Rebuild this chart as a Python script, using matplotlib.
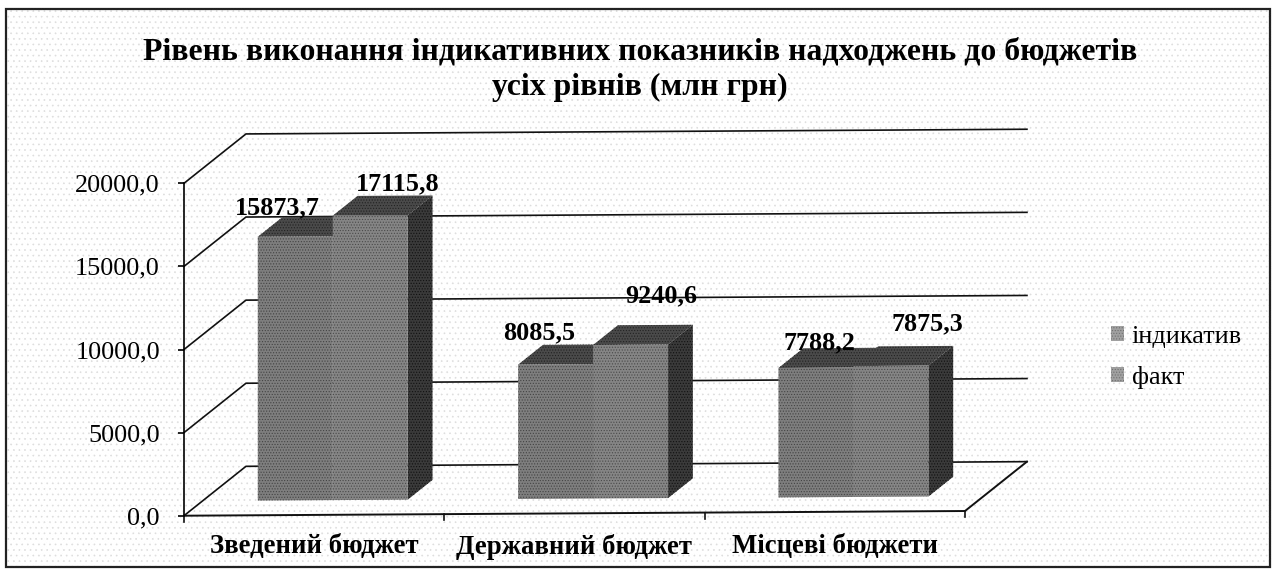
import numpy as np
import matplotlib
matplotlib.use('Agg')
import matplotlib.pyplot as plt
from matplotlib.patches import Polygon, Rectangle, Patch
from matplotlib.transforms import Affine2D

plt.rcParams['font.family'] = ['Liberation Serif', 'DejaVu Serif']
plt.rcParams['hatch.linewidth'] = 0.5

# Data
title = 'Рівень виконання індикативних показників надходжень до бюджетів\nусіх рівнів (млн грн)'
categories = ['Зведений бюджет', 'Державний бюджет', 'Місцеві бюджети']
series_names = ['індикатив', 'факт']
indicative = [15873.7, 8085.5, 7788.2]
actual = [17115.8, 9240.6, 7875.3]
y_ticks = [0, 5000, 10000, 15000, 20000]

# 3d look: the wall sits up and to the right of the front plane
depth_x = 0.238
depth_y = 2948
skew_y = 94  # the scan is slightly rotated
bar_w = 0.288
bar_d0 = 0.3
bar_d1 = 0.7

# hand placed labels of the original, in pixels from the bar's top front edge
label_dx = [[-18, 27], [-16, 31], [4, 36]]
label_dy = [[29, 32], [32, 49], [25, 42]]

W, H = 1274, 569
fig = plt.figure(figsize=(W / 100, H / 100), dpi=100, facecolor='white')
fig.add_artist(Rectangle((6 / W, 1 - 567 / H), 1264 / W, 558 / H, transform=fig.transFigure,
                         facecolor='white', edgecolor='#dedede', hatch='...', lw=0, zorder=-2))
fig.add_artist(Rectangle((6 / W, 1 - 567 / H), 1264 / W, 558 / H, transform=fig.transFigure,
                         facecolor='none', edgecolor='#222222', lw=1.6, zorder=-1))

ax = fig.add_axes([184 / W, 1 - 515.7 / H, 781 / W, 332.4 / H])
ax.patch.set_visible(False)
ax.set_xlim(0, 3)
ax.set_ylim(0, 20000)
tilt = Affine2D.from_values(1, skew_y, 0, 1, 0, 0) + ax.transData


def flat(xs, vs, ds):
    return np.column_stack([np.array(xs) + np.array(ds) * depth_x,
                            np.array(vs) + np.array(ds) * depth_y])


# walls and floor
for v in y_ticks:
    ax.plot(*flat([0, 0, 3], [v, v, v], [0, 1, 1]).T, color='#111111', lw=1.2, transform=tilt, clip_on=False)
ax.plot(*flat([0, 3, 3], [0, 0, 0], [0, 0, 1]).T, color='#111111', lw=1.4, transform=tilt, clip_on=False)
for x in range(4):
    ax.plot([x, x], [0, -360], color='#111111', lw=1.2, transform=tilt, clip_on=False)

# bars, left one first so that the right one covers its side
styles = [('#7e7e7e', '#444444'), ('#858585', '#4a4a4a')]
for s, values in enumerate([indicative, actual]):
    xs = np.arange(3) + 0.5 + (s - 1) * bar_w
    front_x = xs + bar_d0 * depth_x
    base = bar_d0 * depth_y
    ax.bar(front_x, values, width=bar_w, bottom=base, align='edge', transform=tilt, clip_on=False,
           facecolor=styles[s][0], edgecolor=styles[s][1], hatch='......', lw=0, label=series_names[s],
           zorder=3 + s)
    for i, v in enumerate(values):
        x0, x1 = xs[i], xs[i] + bar_w
        top = flat([x0, x1, x1, x0], [v, v, v, v], [bar_d0, bar_d0, bar_d1, bar_d1])
        side = flat([x1, x1, x1, x1], [0, v, v, 0], [bar_d0, bar_d0, bar_d1, bar_d1])
        ax.add_patch(Polygon(top, transform=tilt, facecolor='#4a4a4a', edgecolor='#222222', hatch='......',
                             lw=0, clip_on=False, zorder=2.9 + s))
        ax.add_patch(Polygon(side, transform=tilt, facecolor='#3a3a3a', edgecolor='#111111', hatch='......',
                             lw=0, clip_on=False, zorder=2.9 + s))
        ax.annotate(f'{v:.1f}'.replace('.', ','), (front_x[i] + bar_w / 2, v + base), xycoords=tilt,
                    xytext=(label_dx[i][s] * 0.72, label_dy[i][s] * 0.72), textcoords='offset points',
                    ha='center', va='center', fontsize=18.8, fontweight='bold', color='black', zorder=8,
                    annotation_clip=False)

# axes
for name in ['top', 'right', 'bottom']:
    ax.spines[name].set_visible(False)
ax.spines['left'].set_linewidth(1.2)
ax.set_yticks(y_ticks)
ax.set_yticklabels([f'{v:.1f}'.replace('.', ',') for v in y_ticks], fontsize=18.8)
ax.tick_params(axis='y', length=4.3, width=1.2, pad=13)
ax.set_xticks(np.arange(3) + 0.5)
ax.set_xticklabels(categories, fontsize=19.3, fontweight='bold')
ax.tick_params(axis='x', length=0, pad=13)

fig.text(640 / W, 1 - 70 / H, title, ha='center', va='center', fontsize=22.9, fontweight='bold',
         linespacing=1.3)

handles = [Patch(facecolor='#a0a0a0', edgecolor='#707070', hatch='......', lw=0, label=n) for n in series_names]
fig.legend(handles=handles, loc='upper left', bbox_to_anchor=(1111 / W, 1 - 326 / H), frameon=False,
           fontsize=18.8, handlelength=0.5, handleheight=0.5, handletextpad=0.3, labelspacing=0.68,
           borderpad=0, borderaxespad=0)

fig.savefig('out.png', dpi=100)
